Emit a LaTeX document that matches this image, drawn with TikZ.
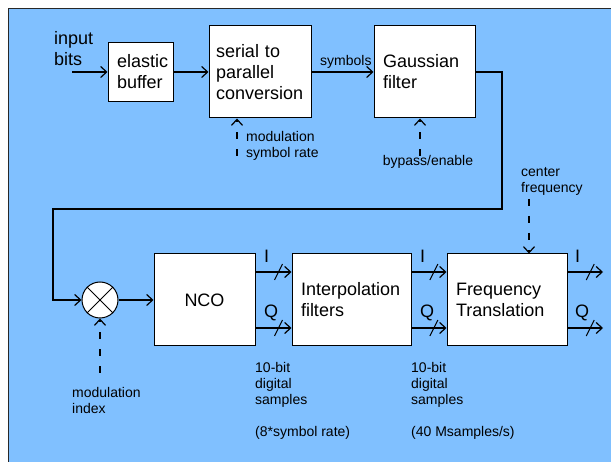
\documentclass[tikz,border=0pt]{standalone}
\usepackage{fontspec}
\setmainfont{Liberation Sans}
\usetikzlibrary{arrows.meta,decorations.markings}
\definecolor{panelblue}{RGB}{128,192,255}
\definecolor{panelrim}{RGB}{40,40,40}
\tikzset{
    every node/.style={font=\fontsize{18}{21}\selectfont}
}
\tikzset{
    block/.style={draw, fill=white, line width=1pt, align=left, inner xsep=9pt, inner ysep=0pt},
    small/.style={font=\fontsize{14}{16}\selectfont, align=left, inner sep=0pt},
    big/.style={align=left, inner sep=0pt}
}
\tikzset{
    arr/.style={line width=1.2pt, -{Straight Barb[length=6pt,width=11pt]}},
    ctrl/.style={arr, dash pattern=on 7pt off 10pt},
    bus/.style={arr, postaction={decorate},
        decoration={markings, mark=at position 0.64 with
        {\draw [-, solid, line width=1pt] (-4pt,-8pt) -- (4pt,8pt);}}}
}

\begin{document}
\begin{tikzpicture}[x=1pt, y=-1pt]
  \useasboundingbox (0,0) rectangle (611,462);
  \fill [panelblue] (8,9) rectangle (640,490);
  \draw [line width=1pt, panelrim] (8,490) -- (8,9) -- (640,9);

  % top row
  \node (buffer) [block, text width=47pt, minimum height=59pt] at (140.5,72) {elastic\\buffer};
  \node (serial) [block, inner xsep=7pt, text width=88pt, minimum height=92pt] at (260,72) {serial to\\parallel\\conversion};
  \node (gauss) [block, text width=83pt, minimum height=92pt] at (424.5,72) {Gaussian\\filter};

  % bottom row
  \node (mixer) [circle, draw, fill=white, line width=1pt, minimum size=36pt, inner sep=0pt] at (100,300) {};
  \node (nco) [block, align=center, text width=83pt, minimum height=92pt] at (204.5,300) {NCO};
  \node (interp) [block, text width=101pt, minimum height=92pt] at (351.5,300) {Interpolation\\filters};
  \node (freq) [block, text width=102pt, minimum height=92pt] at (507,300) {Frequency\\Translation};
  \draw [line width=1pt] (mixer.45) -- (mixer.225) (mixer.135) -- (mixer.-45);

  \coordinate (bitsin) at (72,72);
  \coordinate (fbright) at (502,209);
  \coordinate (fbleft) at (53,209);
  \coordinate (symrate) at (237,156);
  \coordinate (bypass) at (420,156);
  \coordinate (cfreq) at (529,199);
  \coordinate (modidx) at (100,373);
  \coordinate (outI) at (603,272);
  \coordinate (outQ) at (603,328);

  \draw (bitsin) edge [arr] (buffer);
  \draw (buffer) edge [arr] (serial);
  \draw (serial) edge [arr] (gauss);
  \draw [arr] (gauss.east) -| (fbright) -- (fbleft) |- (mixer.west);
  \draw (mixer) edge [arr] (nco);

  \draw ([yshift=28pt]nco.east) edge [bus] ([yshift=28pt]interp.west);
  \draw ([yshift=-28pt]nco.east) edge [bus] ([yshift=-28pt]interp.west);
  \draw ([yshift=28pt]interp.east) edge [bus] ([yshift=28pt]freq.west);
  \draw ([yshift=-28pt]interp.east) edge [bus] ([yshift=-28pt]freq.west);
  \draw ([yshift=28pt]freq.east) edge [bus] (outI);
  \draw ([yshift=-28pt]freq.east) edge [bus] (outQ);

  \draw (symrate) edge [ctrl] (symrate |- serial.south);
  \draw (bypass) edge [ctrl] (bypass |- gauss.south);
  \draw (cfreq) edge [ctrl] (cfreq |- freq.north);
  \draw (modidx) edge [ctrl] (mixer.south);

  % labels
  \node (inlabel) [big, anchor=north west] at (54,31) {input\\bits};
  \node (symlabel) [small, anchor=base west] at (320,66) {symbols};
  \node (ratelabel) [small, anchor=north west] at (246,131) {modulation\\symbol rate};
  \node (bplabel) [small] at (428,162) {bypass/enable};
  \node (cflabel) [small, anchor=north west] at (521,167) {center\\frequency};
  \node (idxlabel) [small, anchor=north west] at (72,387) {modulation\\index};
  \node (smp1) [small, anchor=north west] at (255,362) {10-bit\\digital\\samples\\[16pt](8*symbol rate)};
  \node (smp2) [small, anchor=north west] at (411,362) {10-bit\\digital\\samples\\[16pt](40 Msamples/s)};

  \node (i1) [big, anchor=base west] at (264,263) {I};
  \node (q1) [big, anchor=base west] at (264,318) {Q};
  \node (i2) [big, anchor=base west] at (420,263) {I};
  \node (q2) [big, anchor=base west] at (420,318) {Q};
  \node (i3) [big, anchor=base west] at (575,263) {I};
  \node (q3) [big, anchor=base west] at (575,318) {Q};
\end{tikzpicture}
\end{document}
